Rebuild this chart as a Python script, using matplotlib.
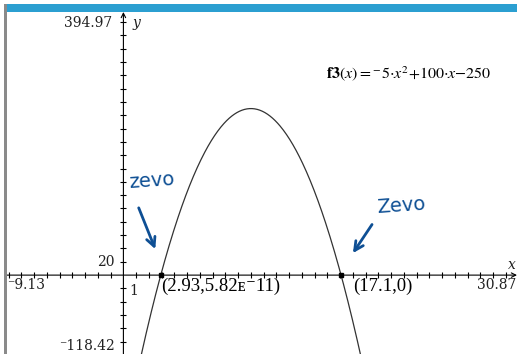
import matplotlib.pyplot as plt
import numpy as np

# window settings
x_min, x_max = -9.13, 30.87
y_min, y_max = -118.42, 394.97
x_scale = 1
y_scale = 20

# f3(x) = a*x^2 + b*x + c
coef_a, coef_b, coef_c = -5, 100, -250

# zeros found on the graph and their labels
zero_x = [2.93, 17.1]
zero_y = [5.82e-11, 0]
zero_labels = ["(2.93,5.82\u1d07\u207b11)", "(17.1,0)"]

W, H = 517, 354
fig = plt.figure(figsize=(W / 100, H / 100), dpi=100)
fig.patch.set_facecolor("white")

serif = ["Liberation Serif", "DejaVu Serif"]

# screen frame: blue title bar and grey left border
fig.add_artist(plt.Rectangle((4 / W, 1 - 12 / H), 1 - 4 / W, 8 / H,
                             transform=fig.transFigure, color="#2b9fd1", lw=0))
fig.add_artist(plt.Rectangle((4 / W, 0), 3 / W, 1 - 4 / H,
                             transform=fig.transFigure, color="#8a8a8a", lw=0))

ax = fig.add_axes([7 / W, 0, 1 - 7 / W, 1 - 12 / H])
ax.set_xlim(x_min, x_max)
ax.set_ylim(y_min, y_max)
ax.axis("off")

# axes lines with arrows
ax.annotate("", xy=(x_max, 0), xytext=(x_min, 0),
            arrowprops=dict(arrowstyle="->", lw=0.8, color="black",
                            mutation_scale=8, shrinkA=0, shrinkB=0))
ax.annotate("", xy=(0, y_max), xytext=(0, y_min),
            arrowprops=dict(arrowstyle="->", lw=0.8, color="black",
                            mutation_scale=8, shrinkA=0, shrinkB=0))

xt = np.arange(np.ceil(x_min), x_max, x_scale)
xt = xt[xt != 0]
ax.plot(xt, np.zeros_like(xt), ls="none", marker="|", ms=5, mew=0.8, color="black")
yt = np.arange(np.ceil(y_min / y_scale) * y_scale, y_max, y_scale)
yt = yt[yt != 0]
ax.plot(np.zeros_like(yt), yt, ls="none", marker="_", ms=5, mew=0.8, color="black")

# axis end labels
lab = dict(family="DejaVu Serif", fontsize=10, color="#222222")
ax.text(-0.9, y_max - 6, "394.97", ha="right", va="top", **lab)
ax.text(0.7, y_max - 6, "y", ha="left", va="top", style="italic", **lab)
ax.text(-0.7, y_scale, "20", ha="right", va="center", **lab)
ax.text(-0.7, y_min + 2, "\u207b118.42", ha="right", va="bottom", **lab)
ax.text(x_min + 0.02, -5, "\u207b9.13", ha="left", va="top", **lab)
ax.text(x_max - 0.02, -5, "30.87", ha="right", va="top", **lab)
ax.text(x_max - 0.1, 5, "x", ha="right", va="bottom", style="italic", **lab)
ax.text(0.8, -14, "1", ha="center", va="top", **lab)

# graph of f3
xs = np.linspace(x_min, x_max, 800)
ys = coef_a * xs ** 2 + coef_b * xs + coef_c
ax.plot(xs, ys, color="#333333", lw=0.9)

ax.text(15.9, 303,
        r"$\mathbf{f3}\left(x\right){=}{}^{-}5{\cdot}x^2{+}100{\cdot}x{-}250$",
        ha="left", va="center", fontsize=11.5, color="black",
        math_fontfamily="stix")

# zeros
ax.plot(zero_x, zero_y, ls="none", marker="s", ms=2.8, color="black")
ax.text(zero_x[0] + 0.05, -4, zero_labels[0], ha="left", va="top",
        family=serif, fontsize=13.5)
ax.text(zero_x[1] + 0.9, -4, zero_labels[1], ha="left", va="top",
        family=serif, fontsize=13.5)

# hand-written notes
ink = "#0e4f94"
ax.text(2.2, 142, "zevo", ha="center", va="center", color=ink,
        fontsize=14, family="DejaVu Sans", rotation=4)
ax.text(21.8, 104, "Zevo", ha="center", va="center", color=ink,
        fontsize=14, family="DejaVu Sans", rotation=4)
ax.annotate("", xy=(2.5, 39), xytext=(1.2, 101),
            arrowprops=dict(arrowstyle="->", lw=2.0, color=ink,
                            mutation_scale=16, shrinkA=0, shrinkB=0))
ax.annotate("", xy=(18.0, 33), xytext=(19.5, 76),
            arrowprops=dict(arrowstyle="->", lw=2.0, color=ink,
                            mutation_scale=16, shrinkA=0, shrinkB=0))

fig.savefig("out.png", dpi=100, facecolor="white")
